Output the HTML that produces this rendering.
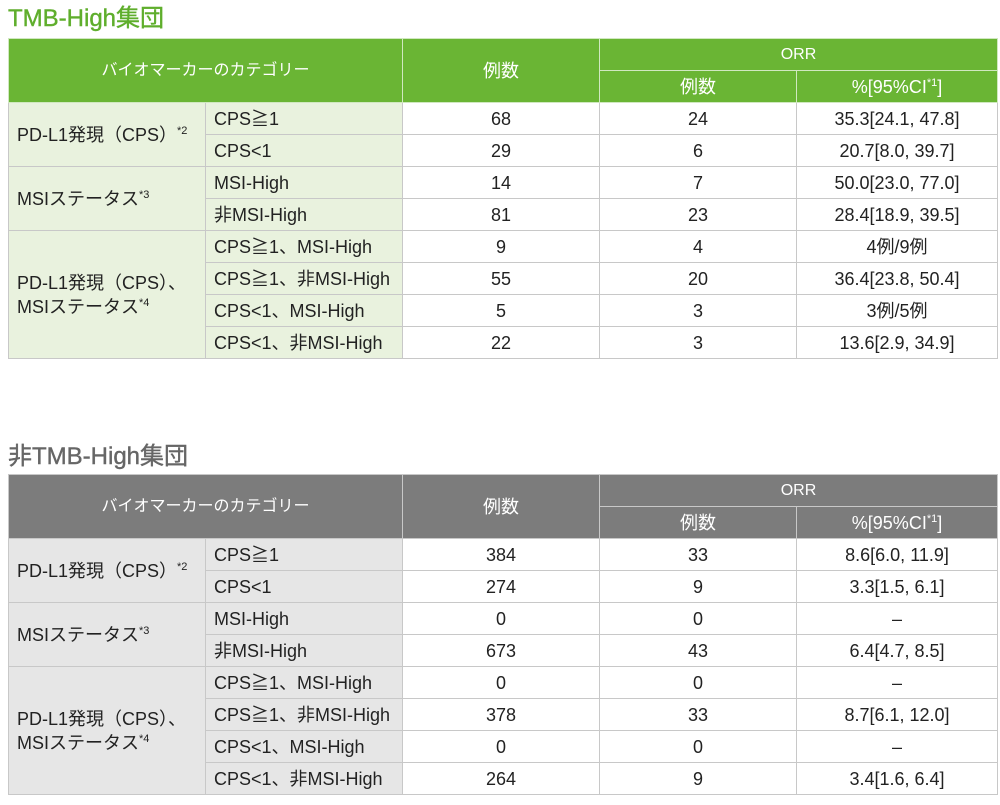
<!DOCTYPE html>
<html><head><meta charset="utf-8"><style>
body{margin:0;background:#fff;font-family:"Liberation Sans","Noto Sans CJK JP",sans-serif;color:#222;}
.t{position:absolute;left:8px;font-size:24px;line-height:28px;-webkit-text-stroke:0.4px;}
table{position:absolute;left:8px;border-collapse:collapse;table-layout:fixed;width:989px;font-size:18px;}
td{border:1px solid #c8c8c8;height:31px;padding:0;text-align:center;line-height:20px;vertical-align:middle;}
td.l{text-align:left;padding-left:8px;}
.g th{background:#6ab534;}
th{color:#fff;font-weight:normal;font-size:16px;border:1px solid #d0e8c0;height:31px;padding:0;line-height:18px;}
.h th{background:#7c7c7c;border-color:#c8c8c8;}
.g .c{background:#e9f2de;}
.h .c{background:#e6e6e6;}
sup{font-size:11px;vertical-align:7px;line-height:0;}
</style></head><body>
<div class="t" style="top:5px;color:#5fae2c;">TMB-High集団</div>
<table class="g" style="top:38px;">
<colgroup><col style="width:197px"><col style="width:197px"><col style="width:197px"><col style="width:197px"><col style="width:201px"></colgroup>
<tr><th colspan="2" rowspan="2">バイオマーカーのカテゴリー</th><th rowspan="2" style="font-size:18px">例数</th><th colspan="2">ORR</th></tr>
<tr><th style="font-size:18px">例数</th><th style="font-size:18px">%[95%CI<sup>*1</sup>]</th></tr>
<tr><td class="c l" rowspan="2">PD-L1発現（CPS）<sup>*2</sup></td><td class="c l">CPS≧1</td><td>68</td><td>24</td><td>35.3[24.1, 47.8]</td></tr>
<tr><td class="c l">CPS&lt;1</td><td>29</td><td>6</td><td>20.7[8.0, 39.7]</td></tr>
<tr><td class="c l" rowspan="2">MSIステータス<sup>*3</sup></td><td class="c l">MSI-High</td><td>14</td><td>7</td><td>50.0[23.0, 77.0]</td></tr>
<tr><td class="c l">非MSI-High</td><td>81</td><td>23</td><td>28.4[18.9, 39.5]</td></tr>
<tr><td class="c l" rowspan="4" style="line-height:24px">PD-L1発現（CPS）、<br>MSIステータス<sup>*4</sup></td><td class="c l">CPS≧1、MSI-High</td><td>9</td><td>4</td><td>4例/9例</td></tr>
<tr><td class="c l">CPS≧1、非MSI-High</td><td>55</td><td>20</td><td>36.4[23.8, 50.4]</td></tr>
<tr><td class="c l">CPS&lt;1、MSI-High</td><td>5</td><td>3</td><td>3例/5例</td></tr>
<tr><td class="c l">CPS&lt;1、非MSI-High</td><td>22</td><td>3</td><td>13.6[2.9, 34.9]</td></tr>
</table>
<div class="t" style="top:443px;color:#666;">非TMB-High集団</div>
<table class="h" style="top:474px;">
<colgroup><col style="width:197px"><col style="width:197px"><col style="width:197px"><col style="width:197px"><col style="width:201px"></colgroup>
<tr><th colspan="2" rowspan="2">バイオマーカーのカテゴリー</th><th rowspan="2" style="font-size:18px">例数</th><th colspan="2">ORR</th></tr>
<tr><th style="font-size:18px">例数</th><th style="font-size:18px">%[95%CI<sup>*1</sup>]</th></tr>
<tr><td class="c l" rowspan="2">PD-L1発現（CPS）<sup>*2</sup></td><td class="c l">CPS≧1</td><td>384</td><td>33</td><td>8.6[6.0, 11.9]</td></tr>
<tr><td class="c l">CPS&lt;1</td><td>274</td><td>9</td><td>3.3[1.5, 6.1]</td></tr>
<tr><td class="c l" rowspan="2">MSIステータス<sup>*3</sup></td><td class="c l">MSI-High</td><td>0</td><td>0</td><td>–</td></tr>
<tr><td class="c l">非MSI-High</td><td>673</td><td>43</td><td>6.4[4.7, 8.5]</td></tr>
<tr><td class="c l" rowspan="4" style="line-height:24px">PD-L1発現（CPS）、<br>MSIステータス<sup>*4</sup></td><td class="c l">CPS≧1、MSI-High</td><td>0</td><td>0</td><td>–</td></tr>
<tr><td class="c l">CPS≧1、非MSI-High</td><td>378</td><td>33</td><td>8.7[6.1, 12.0]</td></tr>
<tr><td class="c l">CPS&lt;1、MSI-High</td><td>0</td><td>0</td><td>–</td></tr>
<tr><td class="c l">CPS&lt;1、非MSI-High</td><td>264</td><td>9</td><td>3.4[1.6, 6.4]</td></tr>
</table>
</body></html>
